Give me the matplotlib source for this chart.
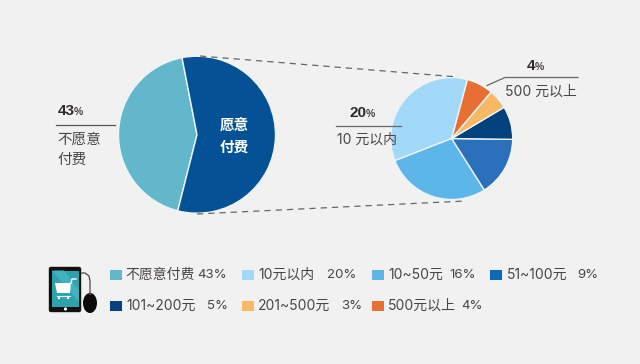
import matplotlib
matplotlib.use("Agg")
import matplotlib.pyplot as plt
from matplotlib.patches import Rectangle, FancyBboxPatch, Polygon, Ellipse, Circle

main_values = [43, 57]
main_colors = ["#62b8ca", "#045195"]
sub_values = [20, 16, 9, 5, 3, 4]
sub_colors = ["#a2d9f9", "#5cb6ea", "#2a70ba", "#04427e", "#f7b964", "#e76f34"]
legend_labels = ["不愿意付费", "10元以内", "10~50元", "51~100元", "101~200元", "201~500元", "500元以上"]
legend_pcts = ["43%", "20%", "16%", "9%", "5%", "3%", "4%"]
legend_colors = ["#62b8ca", "#a2d9f9", "#5cb6ea", "#0a6cb8", "#04427e", "#f7b964", "#e76f34"]

BG = "#f1f1f1"
CJK = ["Inter", "Noto Sans CJK SC", "DejaVu Sans"]
TXT = "#4a4545"
BOLD = ["Liberation Sans Narrow", "Liberation Sans"]
plt.rcParams["font.family"] = CJK

fig = plt.figure(figsize=(6.4, 3.64), dpi=100, facecolor=BG)

# pies sit in a lower axes whose y points up, so angles read as usual
pax = fig.add_axes([0, 0, 1, 1], facecolor="none", zorder=0)
wp = dict(edgecolor="#eef4f8", linewidth=1.0)
pax.pie(main_values, colors=main_colors, startangle=101, radius=78.5,
        center=(197, 364 - 134.7), wedgeprops=wp, frame=True)
pax.pie(sub_values, colors=sub_colors, startangle=75, radius=61,
        center=(451.7, 364 - 138.5), wedgeprops=wp, frame=True)
pax.set_xlim(0, 640)
pax.set_ylim(0, 364)
pax.axis("off")

ax = fig.add_axes([0, 0, 1, 1], facecolor="none", zorder=1)
ax.set_xlim(0, 640)
ax.set_ylim(364, 0)
ax.axis("off")

# dashed connectors
dash = dict(color="#666666", lw=0.9, dashes=(5, 4))
ax.plot([200, 458], [56, 77], **dash)
ax.plot([197, 465], [214, 201], **dash)


def callout(x, y, num, px):
    ax.text(x, y, num, fontsize=11, fontweight="bold", color="#2f2a2a",
            family=BOLD, va="center", ha="left")
    ax.text(px, y + 1, "%", fontsize=7.5, fontweight="bold", color="#4a4545",
            family=BOLD, va="center", ha="left")


# left callout
callout(58, 111, "43", 74)
ax.plot([56, 115], [124.5, 124.5], color="#555555", lw=0.9)
ax.text(57, 140, "不愿意", fontsize=10.5, color=TXT, va="center", ha="left")
ax.text(57, 160, "付费", fontsize=10.5, color=TXT, va="center", ha="left")

# inner label
ax.text(234, 126, "愿意", fontsize=10.5, color="white", va="center", ha="center", fontweight="bold")
ax.text(234, 148, "付费", fontsize=10.5, color="white", va="center", ha="center", fontweight="bold")

# 20% callout
callout(350, 113, "20", 366)
ax.plot([336, 401], [126, 126], color="#666666", lw=0.9)
ax.text(337, 140, "10 元以内", fontsize=10, color=TXT, va="center", ha="left")

# 4% callout
callout(527, 66, "4", 535)
ax.plot([487, 505, 578], [85.5, 77.5, 77.5], color="#666666", lw=0.9)
ax.text(505, 92, "500 元以上", fontsize=10, color=TXT, va="center", ha="left")

# legend
swatch_x = [110, 242, 372, 490, 110, 242, 372]
label_x = [125, 258, 388, 507, 126, 258, 388]
pct_x = [197, 327, 449, 577, 207, 341, 461]
row_y = [275, 275, 275, 275, 306, 306, 306]
for sx, lx, px, y, lab, pct, c in zip(swatch_x, label_x, pct_x, row_y, legend_labels, legend_pcts, legend_colors):
    ax.add_patch(Rectangle((sx, y - 5.5), 12, 10.5, facecolor=c, edgecolor="none"))
    ax.text(lx, y, lab, fontsize=10, color=TXT, va="center", ha="left")
    ax.text(px, y, pct, fontsize=9.5, color=TXT, va="center", ha="left")

# tablet + mouse icon
ax.add_patch(FancyBboxPatch((49.5, 267.5), 31, 44, boxstyle="round,pad=0,rounding_size=1.5",
                            facecolor="#111111", edgecolor="#111111", lw=1))
ax.add_patch(Rectangle((52, 270.5), 27, 36, facecolor="#2ea3ad", edgecolor="none"))
ax.add_patch(Polygon([(52, 270.5), (64, 270.5), (79, 290), (79, 302)], closed=True, facecolor="#3fb3c0", edgecolor="none"))
ax.add_patch(Circle((65.5, 309), 1.6, facecolor="white", edgecolor="none"))
ax.add_patch(Polygon([(55, 283), (71, 283), (70, 293), (57, 293)], closed=True, facecolor="white", edgecolor="none"))
ax.plot([71, 72, 76], [283, 279, 279], color="white", lw=1)
ax.plot([57, 70], [296, 296], color="white", lw=0.8)
ax.add_patch(Circle((59, 298), 1.2, facecolor="white", edgecolor="none"))
ax.add_patch(Circle((68, 298), 1.2, facecolor="white", edgecolor="none"))
ax.plot([81, 85, 89, 90, 90], [273, 273, 276, 281, 294], color="#333333", lw=0.8)
ax.add_patch(Ellipse((90, 303), 14, 20, facecolor="#0a0a0a", edgecolor="none"))
ax.add_patch(Circle((90, 294), 1, facecolor="#b03030", edgecolor="none"))

fig.savefig("out.png", dpi=100, facecolor=BG)
